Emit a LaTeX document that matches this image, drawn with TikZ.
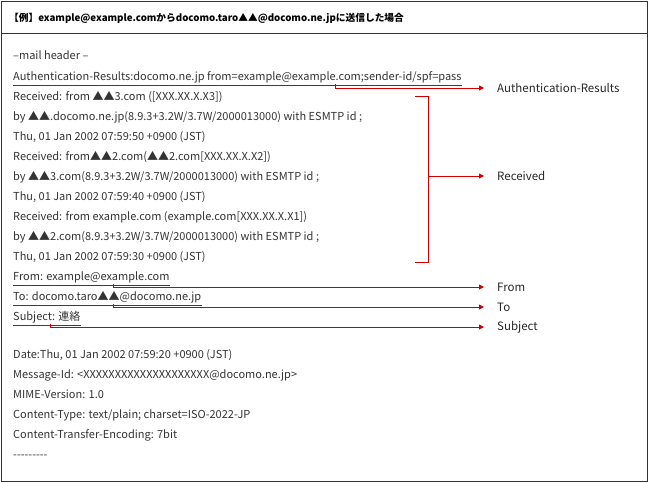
\documentclass[tikz,border=0pt]{standalone}
\usepackage{fontspec}
\setmainfont{Noto Sans CJK JP}
\usetikzlibrary{arrows.meta}
\definecolor{mred}{RGB}{204,0,0}
\begin{document}
\begin{tikzpicture}[x=1pt,y=-1pt,
  ln/.style={anchor=base west,inner sep=0pt,font=\fontsize{11}{12}\selectfont,text=black!80},
  lab/.style={anchor=west,inner sep=0pt,font=\fontsize{11.5}{13}\selectfont,text=black!85},
  redln/.style={draw=mred,line width=0.9pt},
  arr/.style={redln,-{Triangle[length=5pt,width=5pt]}}]
\useasboundingbox (0,0) rectangle (648,482);
\draw[black!80,line width=0.8pt] (1,1) rectangle (647,481);
\draw[black!80,line width=0.8pt] (1,33) -- (647,33);
\node[anchor=base west,inner sep=0pt,font=\fontsize{9.7}{11}\selectfont\bfseries] (title) at (9,21) {【例】example@example.comからdocomo.taro▲▲@docomo.ne.jpに送信した場合};
\node[ln] (h) at (13,59) {–mail header –};
\node[ln] (auth) at (13,80) {Authentication-Results:docomo.ne.jp from=example@example.com;sender-id/spf=pass};
\node[ln] (r1) at (13,100) {Received: from ▲▲3.com ([XXX.XX.X.X3])};
\node[ln] (r2) at (13,120) {by ▲▲.docomo.ne.jp(8.9.3+3.2W/3.7W/2000013000) with ESMTP id ;};
\node[ln] (r3) at (13,140) {Thu, 01 Jan 2002 07:59:50 +0900 (JST)};
\node[ln] (r4) at (13,160) {Received: from▲▲2.com(▲▲2.com[XXX.XX.X.X2])};
\node[ln] (r5) at (13,180) {by ▲▲3.com(8.9.3+3.2W/3.7W/2000013000) with ESMTP id ;};
\node[ln] (r6) at (13,200) {Thu, 01 Jan 2002 07:59:40 +0900 (JST)};
\node[ln] (r7) at (13,220) {Received: from example.com (example.com[XXX.XX.X.X1])};
\node[ln] (r8) at (13,240) {by ▲▲2.com(8.9.3+3.2W/3.7W/2000013000) with ESMTP id ;};
\node[ln] (r9) at (13,260) {Thu, 01 Jan 2002 07:59:30 +0900 (JST)};
\node[ln] (from) at (13,280) {From: example@example.com};
\node[ln] (to) at (13,300) {To: docomo.taro▲▲@docomo.ne.jp};
\node[ln] (subj) at (13,320) {Subject: 連絡};
\node[ln] (d) at (13,358) {Date:Thu, 01 Jan 2002 07:59:20 +0900 (JST)};
\node[ln] (m) at (13,378) {Message-Id: <XXXXXXXXXXXXXXXXXXXX@docomo.ne.jp>};
\node[ln] (mv) at (13,398) {MIME-Version: 1.0};
\node[ln] (ct) at (13,418) {Content-Type: text/plain; charset=ISO-2022-JP};
\node[ln] (cte) at (13,438) {Content-Transfer-Encoding: 7bit};
\node[ln] (dash) at (13,458) {-{}-{}-{}-{}-{}-{}-{}-{}-};
% labels
\node[lab] (la) at (497,88) {Authentication-Results};
\node[lab] (lr) at (497,176) {Received};
\node[lab] (lf) at (497,287) {From};
\node[lab] (lt) at (497,307) {To};
\node[lab] (ls) at (497,327) {Subject};
% underlines
\draw[redln] ([yshift=-3pt]auth.south west) -- ([yshift=-3pt]auth.south east);
\draw[redln] ([yshift=-3pt]from.south west) -- ([yshift=-3pt]from.south east);
\draw[redln] ([yshift=-3pt]to.south west) -- ([yshift=-3pt]to.south east);
\draw[redln] ([yshift=-3pt]subj.south west) -- ([yshift=-3pt]subj.south east);
% connectors
\coordinate (ca) at (335,84);
\draw[arr] (ca) |- ([xshift=-13pt]la.west);
\draw[redln] (415,96) -- (428,96) -- (428,262) -- (415,262);
\coordinate (cr) at (428,176);
\draw[arr] (cr) -- ([xshift=-13pt]lr.west);
\coordinate (cf) at (113,284);
\draw[arr] (cf) |- ([xshift=-13pt]lf.west);
\coordinate (ct2) at (113,304);
\draw[arr] (ct2) |- ([xshift=-13pt]lt.west);
\coordinate (cs) at (50,324);
\draw[arr] (cs) |- ([xshift=-13pt]ls.west);
\end{tikzpicture}
\end{document}
